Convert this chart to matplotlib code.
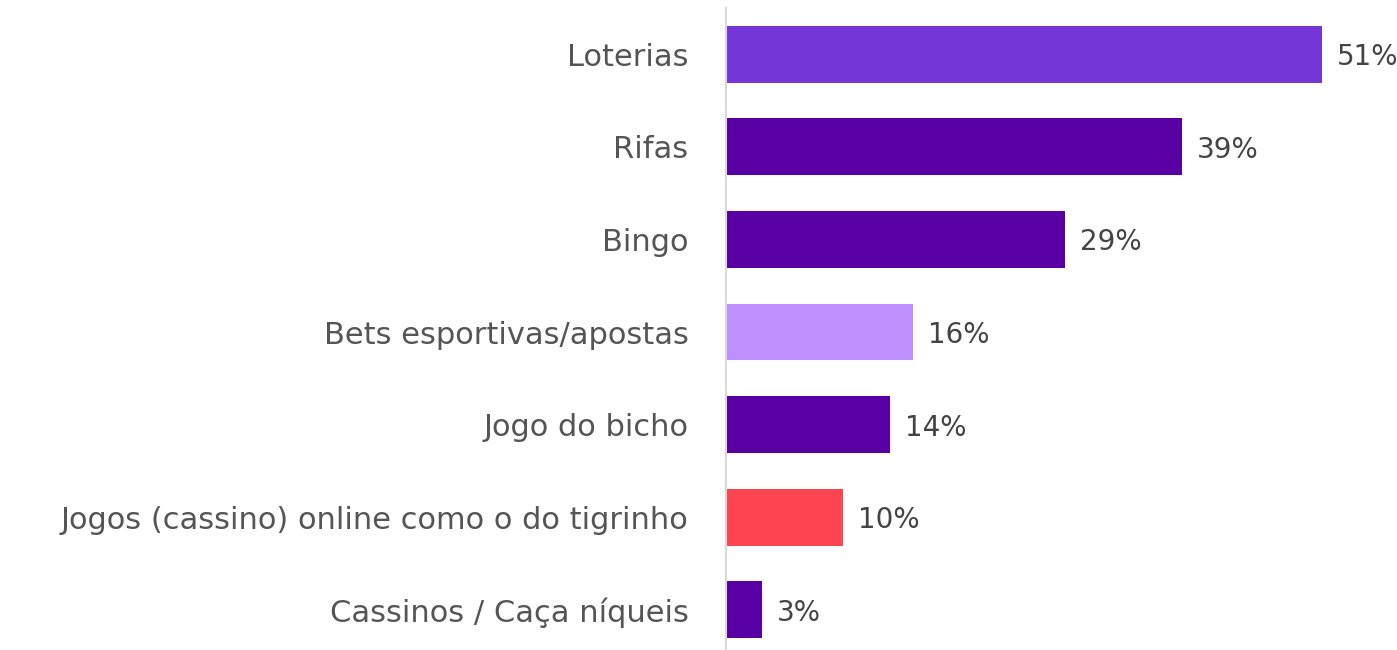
import matplotlib
matplotlib.use("Agg")
import matplotlib.pyplot as plt

categories = ["Loterias", "Rifas", "Bingo", "Bets esportivas/apostas", "Jogo do bicho",
              "Jogos (cassino) online como o do tigrinho", "Cassinos / Caça níqueis"]
values = [51, 39, 29, 16, 14, 10, 3]
labels = ["51%", "39%", "29%", "16%", "14%", "10%", "3%"]
colors = ["#7436D6", "#5800A4", "#5800A4", "#BF8FFF", "#5800A4", "#FF4451", "#5800A4"]

plt.rcParams['font.family'] = ['DejaVu Sans']

W, H = 1397, 650
fig = plt.figure(figsize=(W/100, H/100), dpi=100)
ax = fig.add_axes([726/W, (H-656)/H, (W-726)/W, 648/H])

ypos = list(range(len(categories)))
ax.barh(ypos, values, height=0.615, color=colors, left=0.05)
ax.set_ylim(len(categories)-0.5, -0.5)
ax.set_xlim(0, 57.5)

for y, v, lab in zip(ypos, values, labels):
    ax.annotate(lab, (v + 0.05, y), xytext=(15, -3), textcoords="offset pixels",
                va="center", ha="left", fontsize=20, color="#444444")

ax.set_yticks(ypos)
ax.set_yticklabels(categories, fontsize=22, color="#555555")
ax.tick_params(axis="y", length=0, pad=27)
for lbl in ax.get_yticklabels():
    lbl.set_y(lbl.get_position()[1])
ax.set_xticks([])
for s in ["top", "right", "bottom"]:
    ax.spines[s].set_visible(False)
ax.spines["left"].set_color("#D9D9D9")
ax.spines["left"].set_linewidth(1.5)

fig.savefig("out.png", dpi=100)
